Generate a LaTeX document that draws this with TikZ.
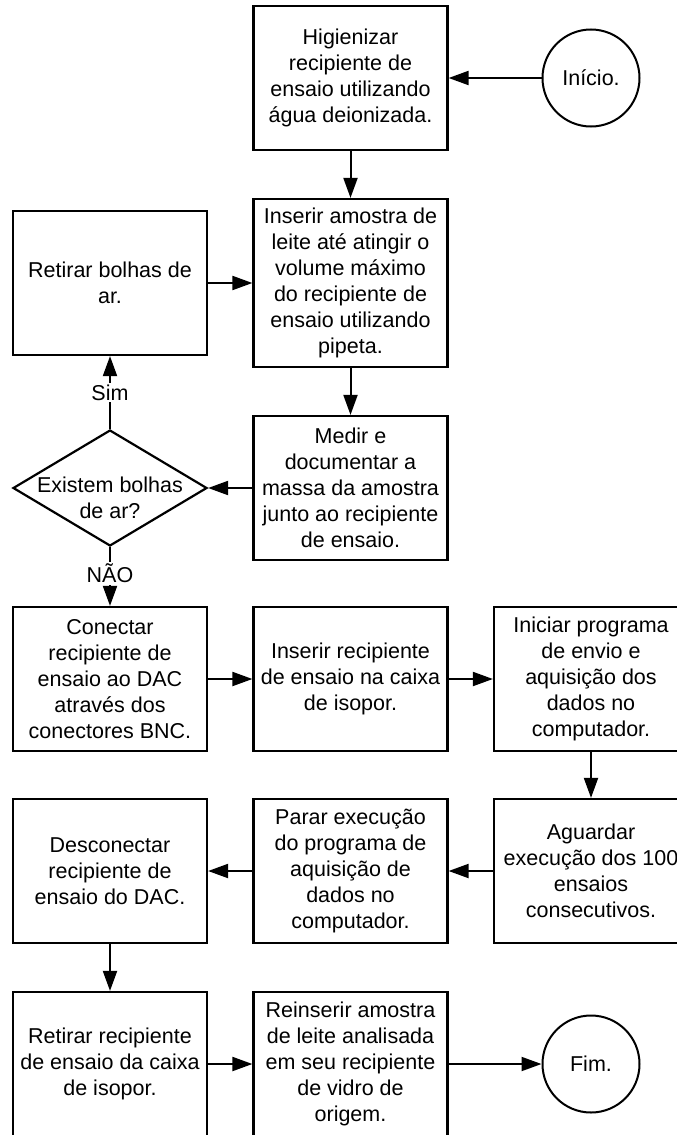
\documentclass[tikz,border=0pt]{standalone}
\usepackage{fontspec}
\setmainfont{Liberation Sans}
\usetikzlibrary{shapes.geometric,arrows.meta}
\begin{document}
\begin{tikzpicture}[x=1pt,y=-1pt,
  txt/.style={font=\fontsize{21.5}{26}\selectfont},
  box/.style={txt, draw, line width=2.2pt, minimum width=194pt, minimum height=144pt, inner sep=0pt, align=center},
  term/.style={txt, draw, circle, line width=2pt, minimum size=97pt, inner sep=0pt},
  decision/.style={draw, diamond, line width=2.2pt, minimum width=194pt, minimum height=116pt, inner sep=0pt},
  arr/.style={line width=2pt, -{Triangle[length=20pt,width=14pt]}},
  lbl/.style={txt, fill=white, inner sep=2pt}]
\useasboundingbox (0,0) rectangle (677,1135);

% row 1
\node[box] (hig) at (350.5,78) {Higienizar\\recipiente de\\ensaio utilizando\\água deionizada.};
\node[term] (ini) at (591,78) {Início.};

% row 2
\node[box] (bol) at (110,283) {Retirar bolhas de\\ar.};
\node[box, minimum height=168pt] (ins) at (350.5,283) {Inserir amostra de\\leite até atingir o\\volume máximo\\do recipiente de\\ensaio utilizando\\pipeta.};

% row 3
\node[decision] (dec) at (110,488) {};
\node[txt, align=center, inner sep=0pt] (dect) at (110,498) {Existem bolhas\\de ar?};
\node[box] (med) at (350.5,488) {Medir e\\documentar a\\massa da amostra\\junto ao recipiente\\de ensaio.};

% row 4
\node[box] (con) at (110,679) {Conectar\\recipiente de\\ensaio ao DAC\\através dos\\conectores BNC.};
\node[box] (irc) at (350.5,679) {Inserir recipiente\\de ensaio na caixa\\de isopor.};
\node[box] (inic) at (591,679) {Iniciar programa\\de envio e\\aquisição dos\\dados no\\computador.};

% row 5
\node[box] (des) at (110,871) {Desconectar\\recipiente de\\ensaio do DAC.};
\node[box] (par) at (350.5,871) {Parar execução\\do programa de\\aquisição de\\dados no\\computador.};
\node[box] (agu) at (591,871) {Aguardar\\execução dos 100\\ensaios\\consecutivos.};

% row 6
\node[box] (ret) at (110,1064) {Retirar recipiente\\de ensaio da caixa\\de isopor.};
\node[box] (rei) at (350.5,1064) {Reinserir amostra\\de leite analisada\\em seu recipiente\\de vidro de\\origem.};
\node[term] (fim) at (591,1064) {Fim.};

% connectors
\draw[arr] (ini) -- (hig);
\draw[arr] (hig) -- (ins);
\draw[arr] (bol) -- (ins);
\draw[arr] (ins) -- (med);
\draw[arr] (med) -- (dec);
\draw[arr] (dec.north) -- node[lbl] {Sim} (bol.south);
\draw[arr] (dec.south) -- node[lbl, pos=0.45] {NÃO} (con.north);
\draw[arr] (con) -- (irc);
\draw[arr] (irc) -- (inic);
\draw[arr] (inic) -- (agu);
\draw[arr] (agu) -- (par);
\draw[arr] (par) -- (des);
\draw[arr] (des) -- (ret);
\draw[arr] (ret) -- (rei);
\draw[arr] (rei) -- (fim);
\end{tikzpicture}
\end{document}
